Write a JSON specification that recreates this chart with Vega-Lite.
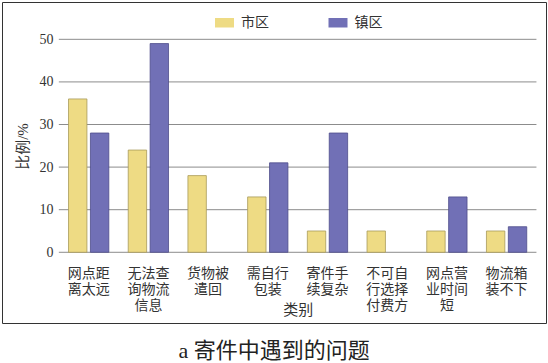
{
  "$schema": "https://vega.github.io/schema/vega-lite/v6.json",
  "autosize": "none",
  "padding": {"left": 2, "top": 2, "right": 2, "bottom": 40},
  "width": 544,
  "height": 321,
  "background": "white",
  "title": {
    "text": "a 寄件中遇到的问题",
    "orient": "bottom",
    "anchor": "middle",
    "fontSize": 22,
    "fontWeight": "normal",
    "font": "Liberation Serif, Noto Sans CJK SC",
    "color": "#222",
    "offset": 18
  },
  "config": {
    "view": {"stroke": "#333", "strokeWidth": 1},
    "font": "Liberation Serif, Noto Sans CJK SC"
  },
  "layer": [
    {
      "data": {"values": [{"value": 0}, {"value": 10}, {"value": 20}, {"value": 30}, {"value": 40}, {"value": 50}]},
      "mark": {"type": "rule", "color": "#8c8c8c", "strokeWidth": 1},
      "encoding": {
        "y": {"field": "value", "type": "quantitative"},
        "x": {"datum": "网点距|离太远", "bandPosition": 0},
        "x2": {"datum": "物流箱|装不下", "bandPosition": 1}
      }
    },
    {
      "data": {
        "values": [
          {"cat": "网点距|离太远", "group": "市区", "value": 36},
          {"cat": "网点距|离太远", "group": "镇区", "value": 28},
          {"cat": "无法查|询物流|信息", "group": "市区", "value": 24},
          {"cat": "无法查|询物流|信息", "group": "镇区", "value": 49},
          {"cat": "货物被|遣回", "group": "市区", "value": 18},
          {"cat": "需自行|包装", "group": "市区", "value": 13},
          {"cat": "需自行|包装", "group": "镇区", "value": 21},
          {"cat": "寄件手|续复杂", "group": "市区", "value": 5},
          {"cat": "寄件手|续复杂", "group": "镇区", "value": 28},
          {"cat": "不可自|行选择|付费方", "group": "市区", "value": 5},
          {"cat": "网点营|业时间|短", "group": "市区", "value": 5},
          {"cat": "网点营|业时间|短", "group": "镇区", "value": 13},
          {"cat": "物流箱|装不下", "group": "市区", "value": 5},
          {"cat": "物流箱|装不下", "group": "镇区", "value": 6}
        ]
      },
      "mark": {"type": "bar", "strokeWidth": 0.8},
      "encoding": {
        "x": {
          "field": "cat",
          "type": "nominal",
          "sort": null,
          "title": "类别",
          "scale": {
            "domain": ["网点距|离太远", "无法查|询物流|信息", "货物被|遣回", "需自行|包装", "寄件手|续复杂", "不可自|行选择|付费方", "网点营|业时间|短", "物流箱|装不下"],
            "paddingInner": 0, "paddingOuter": 0.556, "align": 0.856
          },
          "axis": {
            "offset": -70.7,
            "bandPosition": 0.5,
            "domain": false,
            "ticks": false,
            "tickSize": 0,
            "labelAngle": 0,
            "labelAlign": "center",
            "labelExpr": "split(datum.label, '|')",
            "labelBaseline": "middle",
            "labelLineHeight": 16,
            "labelFontSize": 14,
            "labelPadding": 21,
            "labelColor": "#333",
            "labelFont": "Noto Sans CJK SC",
            "titleFont": "Noto Sans CJK SC",
            "titleFontSize": 15,
            "titleFontWeight": "normal",
            "titleColor": "#333",
            "titleBaseline": "middle",
            "titleX": 295.7,
            "titleY": 57.5
          }
        },
        "xOffset": {
          "field": "group",
          "scale": {"domain": ["市区", "镇区"], "paddingInner": 0.16, "paddingOuter": 0.443}
        },
        "y": {
          "field": "value",
          "type": "quantitative",
          "title": "比例/%",
          "scale": {"domain": [-16.6, 58.76], "nice": false, "zero": false},
          "axis": {
            "offset": -58,
            "values": [0, 10, 20, 30, 40, 50],
            "grid": false,
            "domain": false,
            "ticks": false,
            "tickSize": 0,
            "labelPadding": 7,
            "labelFontSize": 14,
            "labelColor": "#333",
            "titleFontSize": 15,
            "titleFontWeight": "normal",
            "titleColor": "#333",
            "titlePadding": 9,
            "titleY": 144
          }
        },
        "y2": {"datum": 0},
        "color": {
          "field": "group",
          "type": "nominal",
          "scale": {"domain": ["市区", "镇区"], "range": ["#EEDB84", "#7170B6"]},
          "legend": {
            "orient": "none",
            "legendX": 213,
            "legendY": 11,
            "direction": "horizontal",
            "columns": 2,
            "title": null,
            "symbolType": "M-1,-0.5H1V0.5H-1Z",
            "symbolSize": 361,
            "symbolStrokeWidth": 0,
            "symbolOpacity": 1,
            "labelFontSize": 14,
            "labelFont": "Noto Sans CJK SC",
            "labelColor": "#333",
            "labelOffset": 7,
            "columnPadding": 59.5
          }
        },
        "stroke": {
          "field": "group",
          "type": "nominal",
          "scale": {"domain": ["市区", "镇区"], "range": ["#A89A5A", "#4E4C8A"]},
          "legend": null
        }
      }
    }
  ]
}
